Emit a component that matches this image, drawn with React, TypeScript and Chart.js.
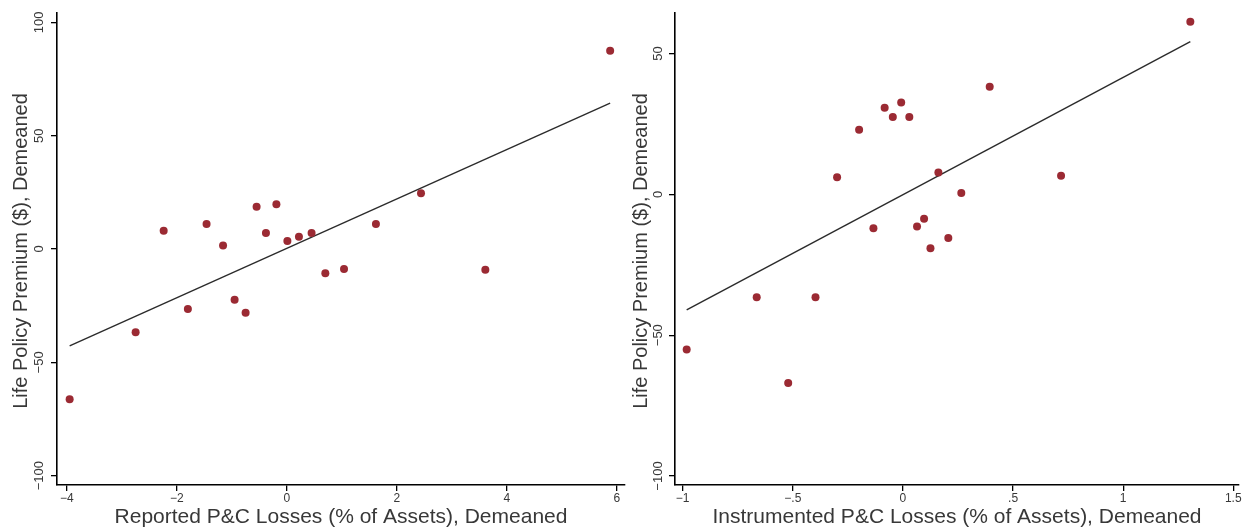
import React, { useEffect, useRef } from "react";
import { Chart, registerables } from "chart.js";

Chart.register(...registerables);

// ---------- data ----------
const leftX = [5.88, 2.44, 1.62, -0.55, -0.19, -2.24, -1.46, -1.16, -0.38, 0.01, 0.22, 0.45, 0.70, 1.04, 3.61, -0.95, -1.80, -0.75, -2.75, -3.95];
const leftY = [87.5, 24.6, 11.0, 18.6, 19.7, 8.1, 11.0, 1.5, 7.1, 3.5, 5.4, 7.1, -10.7, -8.8, -9.2, -22.4, -26.5, -28.1, -36.7, -66.3];
const leftFitX = [-3.95, 5.88];
const leftFitY = [-42.7, 64.3];
const leftXTicks = [-4, -2, 0, 2, 4, 6];
const leftXTickLabels = ["\u22124", "\u22122", "0", "2", "4", "6"];
const leftYTicks = [-100, -50, 0, 50, 100];
const leftYTickLabels = ["\u2212100", "\u221250", "0", "50", "100"];

const rightX = [1.305, 0.394, -0.008, -0.083, -0.046, 0.029, -0.199, -0.299, 0.161, 0.718, 0.265, 0.096, 0.064, -0.134, 0.206, 0.125, -0.664, -0.397, -0.982, -0.521];
const rightY = [61.3, 38.2, 32.6, 30.8, 27.5, 27.5, 22.9, 6.1, 7.8, 6.6, 0.5, -8.7, -11.4, -12.0, -15.5, -19.1, -36.5, -36.5, -55.1, -67.0];
const rightFitX = [-0.982, 1.305];
const rightFitY = [-41.0, 54.2];
const rightXTicks = [-1, -0.5, 0, 0.5, 1, 1.5];
const rightXTickLabels = ["\u22121", "\u2212.5", "0", ".5", "1", "1.5"];
const rightYTicks = [-100, -50, 0, 50];
const rightYTickLabels = ["\u2212100", "\u221250", "0", "50"];

const xTitleLeft = "Reported P&C Losses (% of Assets), Demeaned";
const xTitleRight = "Instrumented P&C Losses (% of Assets), Demeaned";
const yTitle = "Life Policy Premium ($), Demeaned";

// ---------- style ----------
const FONT = "'Liberation Sans', Arial, Helvetica, sans-serif";
const POINT_COLOR = "#9b2a33";
const TEXT_COLOR = "#383838";

type PanelCfg = {
  width: number;
  xs: number[];
  ys: number[];
  fitX: number[];
  fitY: number[];
  xMin: number;
  xMax: number;
  yMin: number;
  yMax: number;
  xTicks: number[];
  xTickLabels: string[];
  yTicks: number[];
  yTickLabels: string[];
  xTitle: string;
  yAxisWidth: number;
  padRight: number;
  yTickLabelX: number;
  yTitleX: number;
};

function makeTextPlugin(cfg: PanelCfg) {
  return {
    id: "stataText",
    afterDraw(chart: any) {
      const ctx = chart.ctx as CanvasRenderingContext2D;
      const xs = chart.scales.x;
      const ys = chart.scales.y;
      const ca = chart.chartArea;
      ctx.save();
      ctx.fillStyle = TEXT_COLOR;
      ctx.textAlign = "center";
      ctx.textBaseline = "middle";
      // x tick labels
      ctx.font = `12px ${FONT}`;
      cfg.xTicks.forEach((v, i) => {
        ctx.fillText(cfg.xTickLabels[i], xs.getPixelForValue(v), 499);
      });
      // y tick labels, rotated
      ctx.font = `13px ${FONT}`;
      cfg.yTicks.forEach((v, i) => {
        const py = ys.getPixelForValue(v);
        ctx.save();
        ctx.translate(cfg.yTickLabelX, py);
        ctx.rotate(-Math.PI / 2);
        ctx.fillText(cfg.yTickLabels[i], 0, 0);
        ctx.restore();
      });
      // x title
      ctx.font = `21px ${FONT}`;
      ctx.fillText(cfg.xTitle, (ca.left + ca.right) / 2, 517);
      // y title
      ctx.font = `20px ${FONT}`;
      ctx.save();
      ctx.translate(cfg.yTitleX, (ca.top + ca.bottom) / 2 + 2);
      ctx.rotate(-Math.PI / 2);
      ctx.fillText(yTitle, 0, 0);
      ctx.restore();
      ctx.restore();
    },
  };
}

function Panel({ cfg, left }: { cfg: PanelCfg; left: number }) {
  const ref = useRef<HTMLCanvasElement | null>(null);
  useEffect(() => {
    if (!ref.current) return;
    const chart = new Chart(ref.current, {
      type: "scatter",
      data: {
        datasets: [
          {
            label: "fit",
            data: cfg.fitX.map((x, i) => ({ x, y: cfg.fitY[i] })),
            showLine: true,
            borderColor: "#2b2b2b",
            borderWidth: 1.4,
            pointRadius: 0,
            order: 2,
          },
          {
            label: "obs",
            data: cfg.xs.map((x, i) => ({ x, y: cfg.ys[i] })),
            backgroundColor: POINT_COLOR,
            borderColor: POINT_COLOR,
            borderWidth: 0,
            pointRadius: 4,
            order: 1,
          },
        ],
      },
      options: {
        responsive: false,
        animation: false,
        devicePixelRatio: 1,
        layout: { padding: { top: 13, right: cfg.padRight, left: 0, bottom: 0 } },
        plugins: { legend: { display: false }, tooltip: { enabled: false } },
        scales: {
          x: {
            type: "linear",
            min: cfg.xMin,
            max: cfg.xMax,
            afterBuildTicks: (s: any) => {
              s.ticks = cfg.xTicks.map((v) => ({ value: v }));
            },
            afterFit: (s: any) => {
              s.height = 44;
            },
            ticks: { display: false },
            grid: {
              display: true,
              drawOnChartArea: false,
              drawTicks: true,
              tickLength: 6,
              color: "#000",
              lineWidth: 1.3,
            },
            border: { display: true, color: "#000", width: 1.6 },
          },
          y: {
            type: "linear",
            min: cfg.yMin,
            max: cfg.yMax,
            afterBuildTicks: (s: any) => {
              s.ticks = cfg.yTicks.map((v) => ({ value: v }));
            },
            afterFit: (s: any) => {
              s.width = cfg.yAxisWidth;
            },
            ticks: { display: false },
            grid: {
              display: true,
              drawOnChartArea: false,
              drawTicks: true,
              tickLength: 6,
              color: "#000",
              lineWidth: 1.3,
            },
            border: { display: true, color: "#000", width: 1.6 },
          },
        },
      },
      plugins: [makeTextPlugin(cfg)],
    } as any);
    return () => chart.destroy();
  }, [cfg]);
  return (
    <canvas
      ref={ref}
      width={cfg.width}
      height={529}
      style={{ position: "absolute", left, top: 0, width: cfg.width, height: 529 }}
    />
  );
}

const leftCfg: PanelCfg = {
  width: 630,
  xs: leftX,
  ys: leftY,
  fitX: leftFitX,
  fitY: leftFitY,
  xMin: -4.18,
  xMax: 6.15,
  yMin: -104.1,
  yMax: 104.1,
  xTicks: leftXTicks,
  xTickLabels: leftXTickLabels,
  yTicks: leftYTicks,
  yTickLabels: leftYTickLabels,
  xTitle: xTitleLeft,
  yAxisWidth: 57,
  padRight: 5,
  yTickLabelX: 39,
  yTitleX: 21,
};

const rightCfg: PanelCfg = {
  width: 613,
  xs: rightX,
  ys: rightY,
  fitX: rightFitX,
  fitY: rightFitY,
  xMin: -1.035,
  xMax: 1.526,
  yMin: -103.2,
  yMax: 64.4,
  xTicks: rightXTicks,
  xTickLabels: rightXTickLabels,
  yTicks: rightYTicks,
  yTickLabels: rightYTickLabels,
  xTitle: xTitleRight,
  yAxisWidth: 45,
  padRight: 3,
  yTickLabelX: 28,
  yTitleX: 11,
};

export default function App() {
  return (
    <div
      style={{
        position: "absolute",
        left: 0,
        top: 0,
        width: 1243,
        height: 529,
        background: "#fff",
        overflow: "hidden",
      }}
    >
      <Panel cfg={leftCfg} left={0} />
      <Panel cfg={rightCfg} left={630} />
    </div>
  );
}
